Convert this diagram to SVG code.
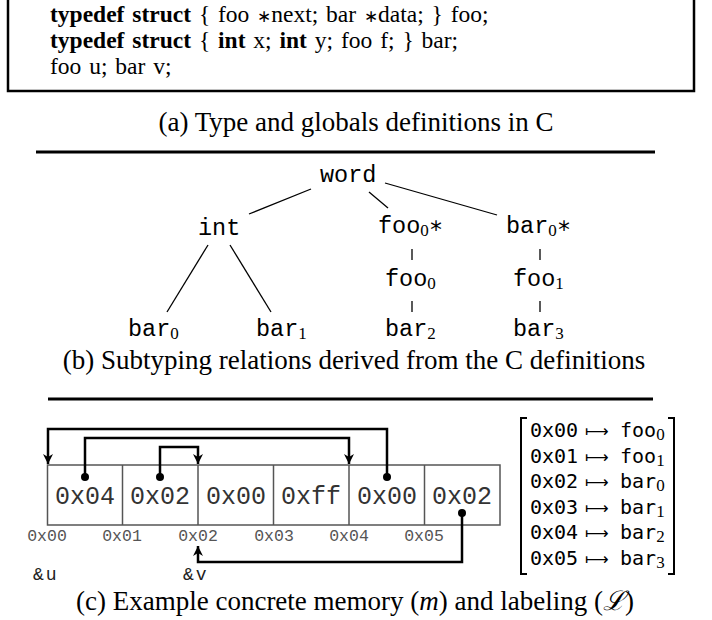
<svg xmlns="http://www.w3.org/2000/svg" width="712" height="620" viewBox="0 0 712 620">
<defs>
<style>
.code{font-family:"Liberation Serif",serif;font-size:23.5px;fill:#000}
.b{font-weight:bold}
.ast{font-size:17px}
.cap{font-family:"Liberation Serif",serif;font-size:27px;fill:#000}
.tt{font-family:"Liberation Mono",monospace;font-size:23.5px;fill:#000}
.sub{font-family:"Liberation Serif",serif;font-size:17px}
.edge{stroke:#000;stroke-width:1.3;fill:none}
.cell{fill:none;stroke:#555;stroke-width:1.5}
.val{font-family:"Liberation Mono",monospace;font-size:25px;fill:#333;text-anchor:middle}
.addr{font-family:"Liberation Mono",monospace;font-size:16.5px;fill:#555;text-anchor:middle}
.ref{font-family:"Liberation Mono",monospace;font-size:18px;fill:#222}
.ptr{stroke:#000;stroke-width:2.5;fill:none}
.map{font-family:"DejaVu Sans Mono",monospace;font-size:20px;fill:#000}
.arr{font-family:"DejaVu Sans",sans-serif;font-size:16.5px;fill:#000}
.rule{stroke:#000;stroke-width:3}
</style>
<marker id="ah" viewBox="0 0 10 10" refX="10" refY="5" markerWidth="4" markerHeight="4" markerUnits="strokeWidth" orient="auto">
<path d="M0,0 L10,5 L0,10 L3,5 Z" fill="#000"/>
</marker>
</defs>

<g id="code-box">
<rect x="8" y="-10" width="686" height="101" fill="none" stroke="#000" stroke-width="2.5"/>
<text class="code" x="50" y="21.5" word-spacing="2"><tspan class="b">typedef struct</tspan> { foo <tspan class="ast">∗</tspan>next; bar <tspan class="ast">∗</tspan>data; } foo;</text>
<text class="code" x="50" y="47.5" word-spacing="2"><tspan class="b">typedef struct</tspan> { <tspan class="b">int</tspan> x; <tspan class="b">int</tspan> y; foo f; } bar;</text>
<text class="code" x="50" y="73.5" word-spacing="2">foo u; bar v;</text>
</g>
<text class="cap" x="356" y="131" text-anchor="middle">(a) Type and globals definitions in C</text>
<line class="rule" x1="36" y1="152" x2="655" y2="152"/>

<g id="tree-edges">
<line class="edge" x1="311" y1="189" x2="249" y2="214"/>
<line class="edge" x1="369" y1="192" x2="388" y2="208"/>
<line class="edge" x1="385" y1="183" x2="497" y2="215"/>
<line class="edge" x1="208" y1="245" x2="167" y2="312"/>
<line class="edge" x1="230" y1="245" x2="271" y2="312"/>
<line class="edge" x1="412" y1="249" x2="412" y2="260"/>
<line class="edge" x1="540" y1="249" x2="540" y2="260"/>
<line class="edge" x1="412" y1="301" x2="412" y2="312"/>
<line class="edge" x1="540" y1="301" x2="540" y2="312"/>
</g>
<g id="n-word"><text class="tt" x="320" y="182">word</text></g>
<g id="n-int"><text class="tt" x="198" y="235">int</text></g>
<g id="n-foo0p"><text class="tt" x="378" y="233">foo<tspan class="sub" dy="3">0</tspan><tspan dy="-3">∗</tspan></text></g>
<g id="n-bar0p"><text class="tt" x="506" y="233">bar<tspan class="sub" dy="3">0</tspan><tspan dy="-3">∗</tspan></text></g>
<g id="n-foo0"><text class="tt" x="385" y="286">foo<tspan class="sub" dy="3">0</tspan></text></g>
<g id="n-foo1"><text class="tt" x="513" y="286">foo<tspan class="sub" dy="3">1</tspan></text></g>
<g id="n-bar0"><text class="tt" x="128" y="336">bar<tspan class="sub" dy="3">0</tspan></text></g>
<g id="n-bar1"><text class="tt" x="256" y="336">bar<tspan class="sub" dy="3">1</tspan></text></g>
<g id="n-bar2"><text class="tt" x="385" y="336">bar<tspan class="sub" dy="3">2</tspan></text></g>
<g id="n-bar3"><text class="tt" x="513" y="336">bar<tspan class="sub" dy="3">3</tspan></text></g>
<text class="cap" x="354" y="369" text-anchor="middle">(b) Subtyping relations derived from the C definitions</text>
<line class="rule" x1="48" y1="399" x2="653" y2="399"/>

<g id="memory">
<rect class="cell" x="47.5" y="465" width="452.5" height="60"/>
<line class="cell" x1="122.5" y1="465" x2="122.5" y2="525"/>
<line class="cell" x1="198" y1="465" x2="198" y2="525"/>
<line class="cell" x1="273.5" y1="465" x2="273.5" y2="525"/>
<line class="cell" x1="349" y1="465" x2="349" y2="525"/>
<line class="cell" x1="424.5" y1="465" x2="424.5" y2="525"/>
<text class="val" x="85" y="504">0x04</text>
<text class="val" x="160" y="504">0x02</text>
<text class="val" x="236" y="504">0x00</text>
<text class="val" x="311" y="504">0xff</text>
<text class="val" x="387" y="504">0x00</text>
<text class="val" x="462" y="504">0x02</text>
<text class="addr" x="47" y="541">0x00</text>
<text class="addr" x="122" y="541">0x01</text>
<text class="addr" x="198" y="541">0x02</text>
<text class="addr" x="274" y="541">0x03</text>
<text class="addr" x="349" y="541">0x04</text>
<text class="addr" x="424" y="541">0x05</text>
<text class="ref" x="33" y="580" letter-spacing="2">&amp;u</text>
<text class="ref" x="183" y="580" letter-spacing="2">&amp;v</text>
</g>

<g id="pointers">
<polyline class="ptr" points="387,477 387,429 48,429 48,464" marker-end="url(#ah)"/>
<polyline class="ptr" points="85,477 85,438 349,438 349,464" marker-end="url(#ah)"/>
<polyline class="ptr" points="160,477 160,447 198,447 198,464" marker-end="url(#ah)"/>
<polyline class="ptr" points="462,513 462,562 198,562 198,546" marker-end="url(#ah)"/>
<circle cx="387" cy="477" r="4"/>
<circle cx="85" cy="477" r="4"/>
<circle cx="160" cy="477" r="4"/>
<circle cx="462" cy="513" r="4"/>
</g>

<g id="labeling">
<path d="M527,418 L521,418 L521,574 L527,574" fill="none" stroke="#000" stroke-width="2"/>
<path d="M668,418 L674,418 L674,574 L668,574" fill="none" stroke="#000" stroke-width="2"/>
<text class="map" x="530" y="437">0x00</text><text class="arr" x="585" y="437">⟼</text><text class="map" x="620" y="437">foo<tspan class="sub" dy="3">0</tspan></text>
<text class="map" x="530" y="463">0x01</text><text class="arr" x="585" y="463">⟼</text><text class="map" x="620" y="463">foo<tspan class="sub" dy="3">1</tspan></text>
<text class="map" x="530" y="488">0x02</text><text class="arr" x="585" y="488">⟼</text><text class="map" x="620" y="488">bar<tspan class="sub" dy="3">0</tspan></text>
<text class="map" x="530" y="514">0x03</text><text class="arr" x="585" y="514">⟼</text><text class="map" x="620" y="514">bar<tspan class="sub" dy="3">1</tspan></text>
<text class="map" x="530" y="539">0x04</text><text class="arr" x="585" y="539">⟼</text><text class="map" x="620" y="539">bar<tspan class="sub" dy="3">2</tspan></text>
<text class="map" x="530" y="565">0x05</text><text class="arr" x="585" y="565">⟼</text><text class="map" x="620" y="565">bar<tspan class="sub" dy="3">3</tspan></text>
</g>
<text class="cap" x="355" y="610" text-anchor="middle">(c) Example concrete memory (<tspan font-style="italic">m</tspan>) and labeling (<tspan font-style="italic">ℒ</tspan>)</text>
</svg>
